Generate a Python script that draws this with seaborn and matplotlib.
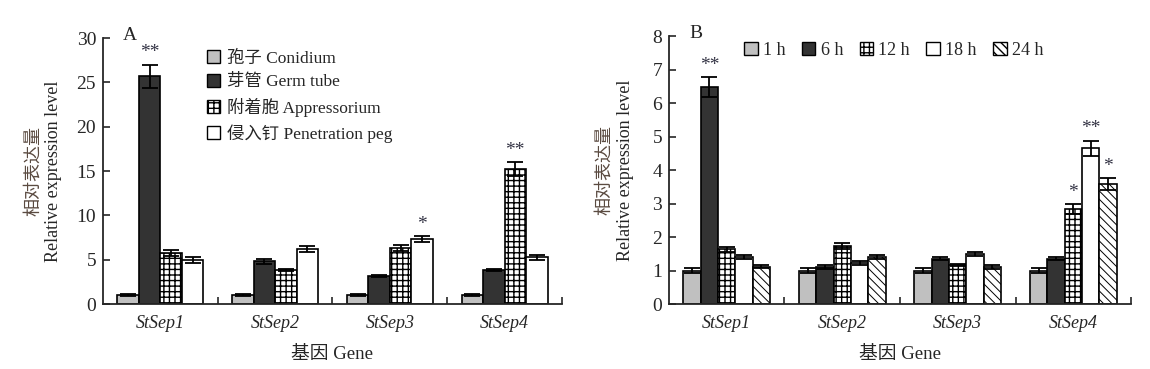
import matplotlib
matplotlib.use("Agg")
import matplotlib.pyplot as plt
from matplotlib.patches import Patch
import pandas as pd
import seaborn as sns

genes = ["StSep1", "StSep2", "StSep3", "StSep4"]

# panel A: developmental stages
stages = ["孢子 Conidium", "芽管 Germ tube", "附着胞 Appressorium", "侵入钉 Penetration peg"]
stage_vals = [
    [1.0, 25.7, 5.75, 4.95],
    [1.0, 4.8, 3.85, 6.2],
    [1.0, 3.2, 6.35, 7.3],
    [1.0, 3.85, 15.2, 5.25],
]
stage_errs = [
    [0.1, 1.3, 0.35, 0.3],
    [0.1, 0.3, 0.15, 0.3],
    [0.1, 0.12, 0.35, 0.33],
    [0.1, 0.15, 0.8, 0.33],
]
stage_stars = {(0, 1): "**", (2, 3): "*", (3, 2): "**"}

# panel B: time after inoculation
times = ["1 h", "6 h", "12 h", "18 h", "24 h"]
time_vals = [
    [1.0, 6.47, 1.63, 1.39, 1.12],
    [1.0, 1.11, 1.72, 1.22, 1.40],
    [1.0, 1.35, 1.17, 1.50, 1.12],
    [1.0, 1.35, 2.84, 4.65, 3.58],
]
time_errs = [
    [0.08, 0.3, 0.08, 0.06, 0.04],
    [0.07, 0.06, 0.09, 0.06, 0.06],
    [0.07, 0.04, 0.04, 0.06, 0.06],
    [0.07, 0.05, 0.14, 0.23, 0.19],
]
time_stars = {(0, 1): "**", (3, 2): "*", (3, 3): "**", (3, 4): "*"}

sns.set_theme(style="ticks")
plt.rcParams["font.family"] = ["Liberation Serif", "Noto Sans CJK SC"]
plt.rcParams["hatch.linewidth"] = 1.0
plt.rcParams["axes.linewidth"] = 1.3

styles_a = [("#c0c0c0", ""), ("#333333", ""), ("white", "+++"), ("white", "")]
styles_b = [("#c0c0c0", ""), ("#333333", ""), ("white", "+++"), ("white", ""),
            ("white", "\\\\\\\\")]


def long_table(vals, errs, groups):
    rows = []
    for i, g in enumerate(genes):
        for j, s in enumerate(groups):
            rows.append({"gene": g, "group": s, "value": vals[i][j], "err": errs[i][j]})
    return pd.DataFrame(rows)


def draw_panel(ax, df, groups, styles, stars, ymax, ystep, letter, en_x, zh_x):
    sns.barplot(data=df, x="gene", y="value", hue="group", hue_order=groups,
                order=genes, width=0.75, errorbar=None, ax=ax,
                edgecolor="black", linewidth=1.2, legend=False)
    n = len(groups)
    bars = ax.patches[: n * len(genes)]
    # seaborn draws hue levels one after another
    for j in range(n):
        for i in range(len(genes)):
            bar = bars[j * len(genes) + i]
            color, hatch = styles[j]
            bar.set_facecolor(color)
            bar.set_hatch(hatch)
            bar.set_edgecolor("black")
            if "\\" in hatch and hasattr(bar, "set_hatch_linewidth"):
                bar.set_hatch_linewidth(0.7)
            cx = bar.get_x() + bar.get_width() / 2
            h = bar.get_height()
            e = df.loc[(df.gene == genes[i]) & (df.group == groups[j]), "err"].iloc[0]
            ax.errorbar(cx, h, yerr=e, color="black", capsize=5.5, elinewidth=1.3,
                        capthick=1.3, fmt="none", zorder=5)
            if (i, j) in stars:
                ax.text(cx, h + e + ymax * 0.012, stars[(i, j)], ha="center",
                        va="bottom", fontsize=14, color="#333344")
    ax.set_xlim(-0.5, len(genes) - 0.5)
    ax.set_ylim(0, ymax)
    ax.set_yticks(range(0, ymax + 1, ystep))
    ax.set_xticks(range(len(genes)))
    ax.set_xticklabels(genes, fontstyle="italic", fontsize=13)
    ax.set_xticks([i + 0.5 for i in range(len(genes))], minor=True)
    ax.tick_params(axis="x", which="major", length=0, pad=8)
    ax.tick_params(axis="x", which="minor", direction="in", length=5, width=1.2)
    ax.tick_params(axis="y", direction="in", length=5, width=1.2, labelsize=14, pad=5)
    ax.set_xlabel("基因 Gene", fontsize=13.5, labelpad=10)
    ax.set_ylabel("Relative expression level", fontsize=13)
    ax.yaxis.set_label_coords(en_x, 0.5)
    ax.text(zh_x, 0.5, "相对表达量", rotation=90,
            transform=ax.transAxes, ha="center", va="center", fontsize=13,
            color="#5a4a40")
    ax.text(0.044, 1.01, letter, transform=ax.transAxes, fontsize=14, va="center")
    sns.despine(ax=ax)
    handles = [Patch(facecolor=c, hatch=h, edgecolor="black", linewidth=1.0)
               for c, h in styles]
    return handles


fig = plt.figure(figsize=(11.5, 3.69), dpi=100)
ax_a = fig.add_axes([0.0896, 0.176, 0.399, 0.721])
ax_b = fig.add_axes([0.5817, 0.176, 0.4018, 0.7264])

h_a = draw_panel(ax_a, long_table(stage_vals, stage_errs, stages), stages,
                 styles_a, stage_stars, 30, 5, "A", -0.089, -0.152)
ax_a.legend(h_a, stages, loc="upper left", bbox_to_anchor=(0.2, 1.0), frameon=False,
            fontsize=12.5, handlelength=0.75, handleheight=0.75, handletextpad=0.4,
            labelspacing=0.42, borderaxespad=0.3)

h_b = draw_panel(ax_b, long_table(time_vals, time_errs, times), times,
                 styles_b, time_stars, 8, 1, "B", -0.076, -0.1385)
ax_b.legend(h_b, times, loc="upper left", bbox_to_anchor=(0.135, 1.025), frameon=False,
            fontsize=13, ncol=5, handlelength=0.75, handleheight=0.75,
            handletextpad=0.3, columnspacing=0.9, borderaxespad=0.3)

fig.savefig("out.png", dpi=100)
